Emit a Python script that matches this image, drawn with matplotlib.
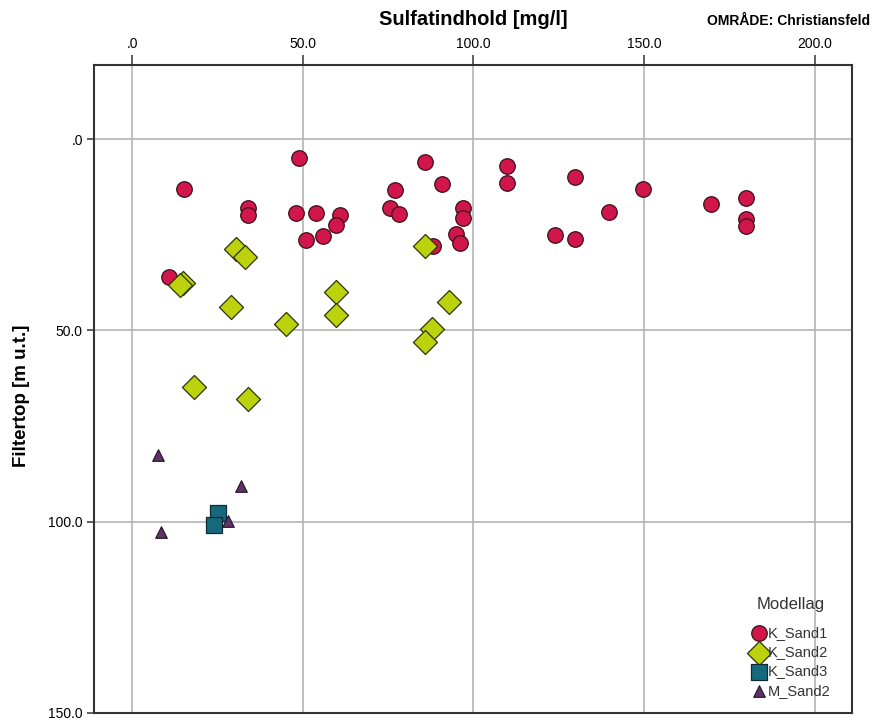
import matplotlib.pyplot as plt

plt.rcParams["font.family"] = ["Liberation Sans", "DejaVu Sans"]

# Sulfat [mg/l] vs filtertop [m u.t.] per modellag
k_sand1_x = [48.9, 15.1, 33.9, 33.9, 48.1, 53.9, 61.0, 59.8, 50.8, 55.9,
             85.9, 76.9, 90.9, 75.7, 78.1, 96.9, 96.9, 95.0, 96.0, 88.1,
             10.8, 109.8, 109.8, 129.8, 149.8, 139.7, 123.8, 129.8, 169.7,
             179.9, 179.9, 179.9]
k_sand1_y = [5.0, 12.9, 18.1, 19.9, 19.4, 19.4, 19.9, 22.5, 26.4, 25.4,
             5.9, 13.3, 11.6, 18.1, 19.6, 17.9, 20.6, 24.8, 27.1, 28.0,
             36.0, 7.1, 11.4, 10.0, 13.1, 19.0, 25.1, 26.1, 17.0,
             15.5, 20.9, 22.7]

k_sand2_x = [85.9, 30.5, 33.0, 14.9, 14.1, 29.0, 45.0, 59.8, 59.8, 92.8,
             87.9, 85.9, 18.0, 34.0]
k_sand2_y = [28.0, 28.6, 30.8, 37.7, 38.2, 44.0, 48.4, 39.9, 46.0, 42.5,
             49.5, 53.0, 64.9, 68.0]

k_sand3_x = [25.0, 24.0]
k_sand3_y = [97.8, 100.9]

m_sand2_x = [7.6, 32.0, 28.1, 8.3]
m_sand2_y = [82.6, 90.7, 99.8, 102.8]

xticks = [0, 50, 100, 150, 200]
xtick_labels = [".0", "50.0", "100.0", "150.0", "200.0"]
yticks = [0, 50, 100, 150]
ytick_labels = [".0", "50.0", "100.0", "150.0"]

fig = plt.figure(figsize=(8.73, 7.22), dpi=100)
ax = fig.add_axes([0.1077, 0.0125, 0.8683, 0.8975])

ax.grid(True, color="#b4b4b4", linewidth=1.2, zorder=0)
ax.set_axisbelow(True)

ax.scatter(k_sand1_x, k_sand1_y, s=125, marker="o", color="#d0164a",
           edgecolors="#3a1018", linewidths=0.9, zorder=3, label="K_Sand1")
ax.scatter(k_sand2_x, k_sand2_y, s=150, marker="D", color="#bcd20c",
           edgecolors="#2e3308", linewidths=0.9, zorder=3, label="K_Sand2")
ax.scatter(k_sand3_x, k_sand3_y, s=120, marker="s", color="#16697c",
           edgecolors="#0c2a30", linewidths=0.9, zorder=3, label="K_Sand3")
ax.scatter(m_sand2_x, m_sand2_y, s=70, marker="^", color="#5e3466",
           edgecolors="#221026", linewidths=0.8, zorder=3, label="M_Sand2")

ax.set_xlim(-11.2, 211)
ax.set_ylim(150, -19.4)

ax.xaxis.tick_top()
ax.set_xticks(xticks)
ax.set_xticklabels(xtick_labels)
ax.set_yticks(yticks)
ax.set_yticklabels(ytick_labels)
ax.tick_params(axis="x", length=7, width=1.2, color="#444444", labelsize=10, pad=3)
ax.tick_params(axis="y", length=5, width=1.2, color="#444444", labelsize=10, pad=3)

for sp in ax.spines.values():
    sp.set_color("#333333")
    sp.set_linewidth(1.5)

fig.text(0.542, 0.973, "Sulfatindhold [mg/l]", ha="center", va="center",
         fontsize=14.5, fontweight="bold")
fig.text(0.997, 0.971, "OMRÅDE: Christiansfeld", ha="right", va="center",
         fontsize=10, fontweight="bold")
fig.text(0.025, 0.452, "Filtertop [m u.t.]", ha="center", va="center",
         rotation=90, fontsize=13.5, fontweight="bold")

leg = ax.legend(title="Modellag", loc="lower right", frameon=False,
                bbox_to_anchor=(0.985, 0.008), fontsize=10.5, title_fontsize=12,
                handletextpad=0.0, labelspacing=0.35, borderpad=0.2,
                handlelength=1.2, markerscale=1.0)
leg._legend_box.sep = 10
leg.get_title().set_color("#333333")
for t in leg.get_texts():
    t.set_color("#333333")

fig.savefig("out.png", dpi=100)
